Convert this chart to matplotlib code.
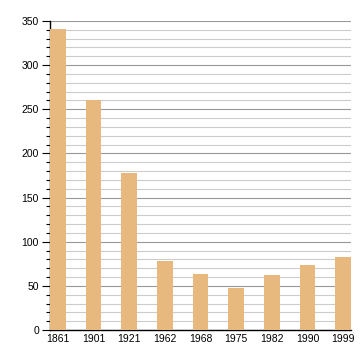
import matplotlib
matplotlib.use("Agg")
import matplotlib.pyplot as plt
from matplotlib.ticker import MultipleLocator

years = ["1861", "1901", "1921", "1962", "1968", "1975", "1982", "1990", "1999"]
values = [341, 261, 178, 78, 63, 48, 62, 74, 83]

plt.rcParams['font.family'] = ['Liberation Sans', 'DejaVu Sans']
fig = plt.figure(figsize=(3.6, 3.6), dpi=100)
ax = fig.add_axes([50/360, 30/360, 301/360, 309/360])

x = list(range(len(years)))
ax.bar(x, values, width=0.44, color="#E8B97F", zorder=3)
ax.set_xlim(-0.22, len(years) - 1 + 0.22)
ax.set_ylim(0, 350)
ax.set_xticks(x)
ax.set_xticklabels(years)
ax.yaxis.set_major_locator(MultipleLocator(50))
ax.yaxis.set_minor_locator(MultipleLocator(10))
ax.grid(axis='y', which='minor', color='#cccccc', linewidth=0.8, zorder=0)
ax.grid(axis='y', which='major', color='#999999', linewidth=0.8, zorder=1)
ax.tick_params(axis='y', which='major', length=6, width=0.8, labelsize=7.5, pad=2)
ax.tick_params(axis='y', which='minor', length=3, width=0.8)
ax.tick_params(axis='x', length=0, labelsize=7.5, pad=3)
for s in ['top', 'right']:
    ax.spines[s].set_visible(False)
ax.spines['left'].set_linewidth(1.0)
ax.spines['bottom'].set_linewidth(1.0)
fig.savefig("out.png", dpi=100)
